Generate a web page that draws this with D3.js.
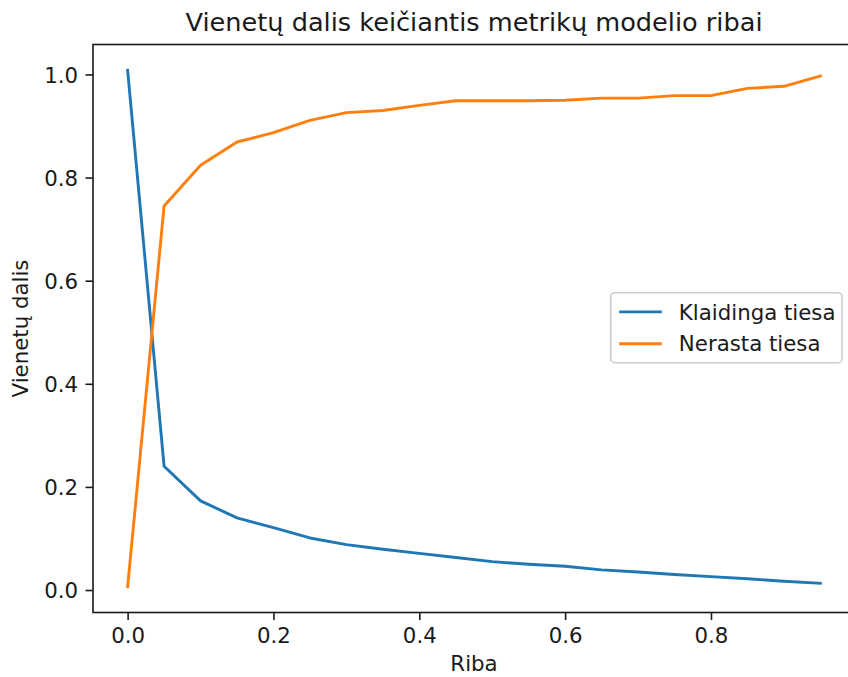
<!DOCTYPE html>
<html>
<head>
<meta charset="utf-8">
<script src="https://cdn.jsdelivr.net/npm/d3@7"></script>
<style>
  html, body { margin: 0; padding: 0; background: #fff; }
  svg { display: block; }
  text { font-family: "DejaVu Sans", sans-serif; fill: #1a1a1a; }
</style>
</head>
<body>
<svg id="chart" width="848" height="677"></svg>
<script>
// ---- data ----
const thresholds = [0, 0.05, 0.1, 0.15, 0.2, 0.25, 0.3, 0.35, 0.4, 0.45, 0.5, 0.55, 0.6, 0.65, 0.7, 0.75, 0.8, 0.85, 0.9, 0.95];
const falseTruth = [1.008, 0.240, 0.173, 0.140, 0.121, 0.101, 0.088, 0.079, 0.071, 0.063, 0.055, 0.050, 0.046, 0.039, 0.035, 0.030, 0.026, 0.022, 0.017, 0.013];
const missedTruth = [0.0065, 0.745, 0.824, 0.869, 0.887, 0.911, 0.926, 0.930, 0.940, 0.949, 0.949, 0.949, 0.950, 0.954, 0.954, 0.959, 0.959, 0.973, 0.977, 0.997];
const seriesNames = ["Klaidinga tiesa", "Nerasta tiesa"];
const seriesColors = ["#1f77b4", "#ff7f0e"];
const xTickValues = [0, 0.2, 0.4, 0.6, 0.8];
const yTickValues = [0, 0.2, 0.4, 0.6, 0.8, 1.0];
const titleText = "Vienetų dalis keičiantis metrikų modelio ribai";
const xLabel = "Riba";
const yLabel = "Vienetų dalis";

// ---- layout ----
const svg = d3.select("#chart");
const L = 93, R = 855, T = 44.5, B = 612.5;
const fs = 21.3;
const lw = 2.9;
const spineW = 1.6;
const ink = "#1a1a1a";

function padded(ext) {
  const span = ext[1] - ext[0];
  return [ext[0] - 0.05 * span, ext[1] + 0.05 * span];
}
const x = d3.scaleLinear().domain(padded(d3.extent(thresholds))).range([L, R]);
const allY = falseTruth.concat(missedTruth);
const y = d3.scaleLinear().domain(padded(d3.extent(allY))).range([B, T]);

// lines
const seriesData = [falseTruth, missedTruth];
const line = d3.line().x((d, i) => x(thresholds[i])).y(d => y(d));
const plot = svg.append("g");
seriesData.forEach((s, k) => {
  plot.append("path")
    .datum(s)
    .attr("d", line)
    .attr("fill", "none")
    .attr("stroke", seriesColors[k])
    .attr("stroke-width", lw)
    .attr("stroke-linejoin", "round")
    .attr("stroke-linecap", "square");
});

// axes
const xAxis = svg.append("g").attr("transform", `translate(0,${B})`)
  .call(d3.axisBottom(x).tickValues(xTickValues).tickFormat(d3.format(".1f")).tickSizeOuter(0).tickSize(7.5).tickPadding(7.5));
const yAxis = svg.append("g").attr("transform", `translate(${L},0)`)
  .call(d3.axisLeft(y).tickValues(yTickValues).tickFormat(d3.format(".1f")).tickSizeOuter(0).tickSize(7.5).tickPadding(7.5));
[xAxis, yAxis].forEach(g => {
  g.select(".domain").remove();
  g.selectAll(".tick line").attr("stroke", ink).attr("stroke-width", spineW);
  g.selectAll(".tick text").attr("font-size", fs).attr("font-family", "DejaVu Sans").attr("fill", ink);
});
xAxis.selectAll(".tick text").attr("dy", null).attr("y", 7.5 + 7.5 + 15.6);
yAxis.selectAll(".tick text").attr("dy", "0.36em");

// spines
svg.append("rect")
  .attr("x", L).attr("y", T).attr("width", R - L).attr("height", B - T)
  .attr("fill", "none").attr("stroke", ink).attr("stroke-width", spineW);

// title
svg.append("text").attr("x", (L + R) / 2).attr("y", 31)
  .attr("text-anchor", "middle").attr("font-size", 25.6).text(titleText);

// axis labels
svg.append("text").attr("x", (L + R) / 2).attr("y", 671)
  .attr("text-anchor", "middle").attr("font-size", fs).text(xLabel);
svg.append("text")
  .attr("transform", `translate(28,${(T + B) / 2}) rotate(-90)`)
  .attr("text-anchor", "middle").attr("font-size", fs).text(yLabel);

// legend
const lgX = 610.7, lgY = 292.7, lgW = 231.3, lgH = 70;
const lg = svg.append("g");
lg.append("rect")
  .attr("x", lgX).attr("y", lgY).attr("width", lgW).attr("height", lgH)
  .attr("rx", 4).attr("ry", 4)
  .attr("fill", "#fff").attr("fill-opacity", 0.8)
  .attr("stroke", "#cccccc").attr("stroke-width", 1.6);
seriesNames.forEach((name, k) => {
  const cy = lgY + (0.9 + 1.5 * k) * fs;
  lg.append("line")
    .attr("x1", lgX + 0.4 * fs).attr("x2", lgX + 2.4 * fs)
    .attr("y1", cy).attr("y2", cy)
    .attr("stroke", seriesColors[k]).attr("stroke-width", lw);
  lg.append("text")
    .attr("x", lgX + 3.2 * fs).attr("y", cy).attr("dy", "0.36em")
    .attr("font-size", fs).text(name);
});
</script>
</body>
</html>
